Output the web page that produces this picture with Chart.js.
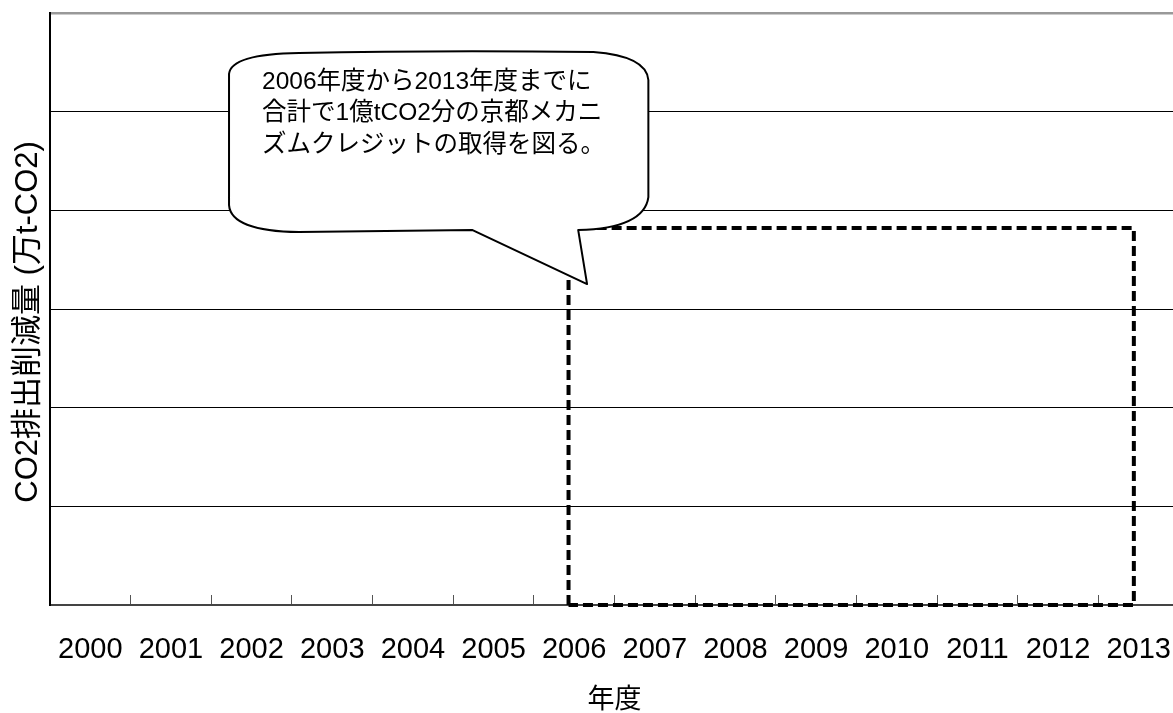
<!DOCTYPE html>
<html><head><meta charset="utf-8">
<script src="https://cdn.jsdelivr.net/npm/chart.js@4"></script>
<style>html,body{margin:0;padding:0;overflow:hidden;background:#fff}#wrap{width:1180px;height:713px}</style>
</head><body><div id="wrap"><canvas id="c" width="1180" height="713"></canvas></div>
<script>
// ---- data ----
const years = ['2000','2001','2002','2003','2004','2005','2006','2007','2008','2009','2010','2011','2012','2013'];
const yMin = 0, yMax = 6000, yStep = 1000;
// credit-acquisition period box (year position, value in 万t-CO2)
const boxX = [2005.93, 2005.93, 2012.94, 2012.94, 2005.93];
const boxY = [0, 3820, 3820, 0, 0];
const calloutLines = ['2006年度から2013年度までに', '合計で1億tCO2分の京都メカニ', 'ズムクレジットの取得を図る。'];
const yTitle = 'CO2排出削減量 (万t-CO2)\u00a0\u00a0\u00a0';
const xTitle = '年度';
// callout anchor in data units (year axis / value axis)
const callout = { x0: 2001.72, x1: 2006.92, yTop: 5605, yBottom: 3790, baseL: 2004.74, baseR: 2006.05, tipX: 2006.16, tipY: 3253 };

const LATIN_CJK = '"Liberation Sans", Arial, "Noto Sans CJK JP", sans-serif';

const calloutPlugin = {
  id: 'callout',
  afterDatasetsDraw(chart) {
    const xs = chart.scales.xr, ys = chart.scales.y, ctx = chart.ctx;
    const L = xs.getPixelForValue(callout.x0), R = xs.getPixelForValue(callout.x1);
    const T = ys.getPixelForValue(callout.yTop), B = ys.getPixelForValue(callout.yBottom);
    const bL = xs.getPixelForValue(callout.baseL), bR = xs.getPixelForValue(callout.baseR);
    const tx = xs.getPixelForValue(callout.tipX), ty = ys.getPixelForValue(callout.tipY);
    ctx.save();
    ctx.beginPath();
    ctx.moveTo(L, T + 22);
    ctx.quadraticCurveTo(L + 2, T + 2, L + 70, T + 1);
    ctx.quadraticCurveTo((L + R) / 2, T - 2, R - 55, T);
    ctx.quadraticCurveTo(R - 2, T + 4, R, T + 28);
    ctx.lineTo(R, B - 34);
    ctx.quadraticCurveTo(R - 4, B - 3, bR, B - 1);
    ctx.lineTo(tx, ty);
    ctx.lineTo(bL, B - 1);
    ctx.lineTo(L + 70, B + 1);
    ctx.quadraticCurveTo(L + 2, B, L, B - 26);
    ctx.closePath();
    ctx.fillStyle = '#fff';
    ctx.fill();
    ctx.lineWidth = 2;
    ctx.strokeStyle = '#000';
    ctx.lineJoin = 'round';
    ctx.stroke();
    ctx.fillStyle = '#000';
    ctx.font = '24.5px ' + LATIN_CJK;
    ctx.textBaseline = 'middle';
    ctx.textAlign = 'left';
    calloutLines.forEach((t, i) => ctx.fillText(t, L + 33, T + 30 + i * 31.5));
    ctx.restore();
  }
};

new Chart(document.getElementById('c'), {
  type: 'line',
  data: {
    labels: years,
    datasets: [{
      data: boxX.map((x, i) => ({ x: x, y: boxY[i] })),
      xAxisID: 'xr',
      yAxisID: 'y',
      borderColor: '#000',
      borderWidth: 4,
      borderDash: [10, 5],
      borderCapStyle: 'butt',
      borderJoinStyle: 'miter',
      pointRadius: 0,
      tension: 0,
      fill: false,
      clip: false
    }]
  },
  options: {
    responsive: false,
    animation: false,
    layout: { padding: { top: 13, right: 1, left: 0, bottom: 0 } },
    plugins: { legend: { display: false }, tooltip: { enabled: false } },
    scales: {
      x: {
        type: 'category',
        offset: true,
        grid: { offset: true, drawOnChartArea: false, drawTicks: true, tickLength: -10, color: '#555', lineWidth: 1 },
        border: { display: true, color: '#444', width: 2 },
        ticks: { font: { size: 29, family: LATIN_CJK, lineHeight: '109px' }, color: '#000', padding: 0, autoSkip: false, maxRotation: 0 },
        title: { display: true, text: xTitle, color: '#000', font: { size: 27, family: LATIN_CJK, lineHeight: 1 }, padding: { top: 0, bottom: -1 } },
        afterFit: (s) => { s.height = 108; }
      },
      xr: {
        type: 'linear', display: false, min: 1999.5, max: 2013.5, position: 'bottom'
      },
      y: {
        min: yMin, max: yMax,
        ticks: { display: false, stepSize: yStep },
        grid: {
          drawTicks: false,
          color: (c) => c.index === c.scale.ticks.length - 1 ? '#999' : '#000',
          lineWidth: (c) => c.index === c.scale.ticks.length - 1 ? 2.5 : 1
        },
        border: { display: true, color: '#000', width: 2 },
        title: { display: true, text: yTitle, color: '#000', font: { size: 31, family: LATIN_CJK, lineHeight: 1 }, padding: { top: 13, bottom: 0 } },
        afterFit: (s) => { s.width = 50; }
      }
    }
  },
  plugins: [calloutPlugin]
});
</script>
</body></html>
